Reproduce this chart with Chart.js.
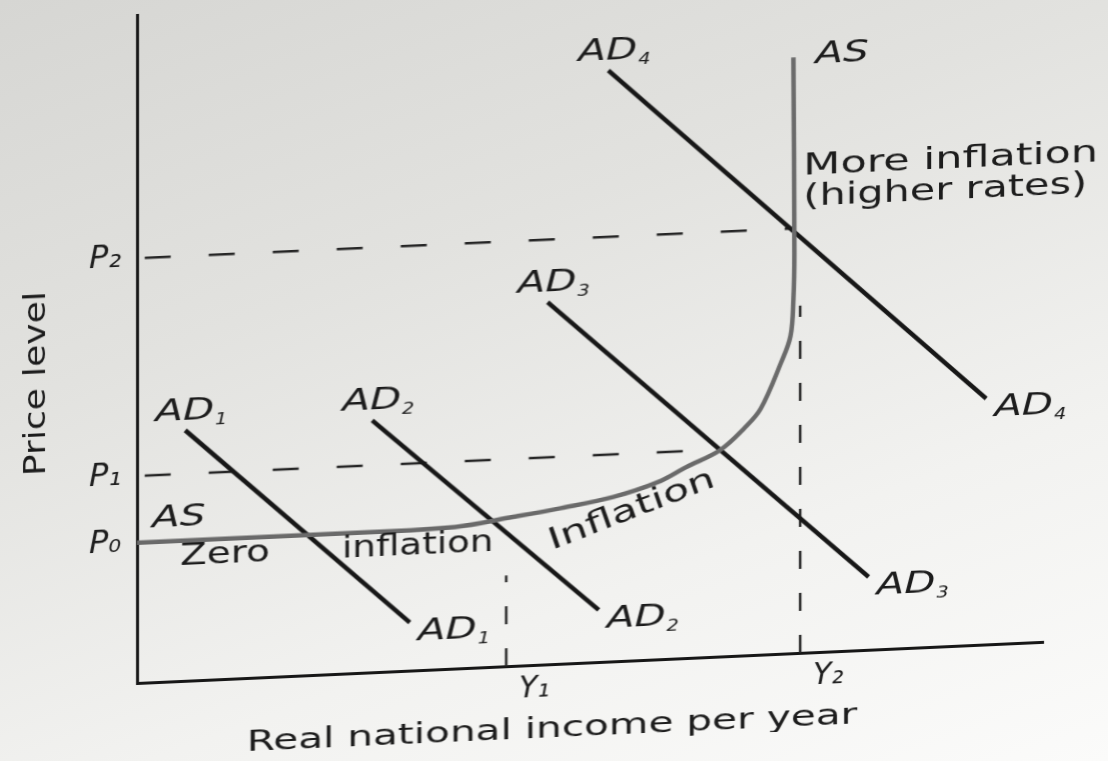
<!DOCTYPE html>
<html>
<head>
<meta charset="utf-8">
<script src="https://cdn.jsdelivr.net/npm/chart.js@4.4.1/dist/chart.umd.min.js"></script>
<style>
  html, body { margin: 0; padding: 0; }
  body {
    width: 1108px; height: 761px; overflow: hidden;
    background: linear-gradient(160deg, #d6d6d3 0%, #e2e2df 35%, #f2f2f0 70%, #fbfbfa 100%);
  }
  #chart { display: block; transform: skewY(-2.6deg); transform-origin: 137px 0; }
</style>
</head>
<body>
<canvas id="chart" width="1108" height="761"></canvas>
<script>
// aggregate supply: flat at P0, bending up into a vertical line at Y2
const asX = [0, 20, 33, 39, 44, 49.4, 54, 57, 60.5, 63, 64.7, 66.8, 67.8, 68.1, 68.2, 68.1];
const asY = [21, 21, 21.2, 22.3, 23.3, 24.6, 26.5, 28.6, 30.9, 34, 36.8, 43.5, 47.5, 53, 60, 89.2];

// aggregate demand curves, start and end of each
const adNames = ['1', '2', '3', '4'];
const adX = [[5.0, 28.3], [24.4, 47.9], [42.6, 75.9], [48.9, 88.1]];
const adY = [[37.5, 7.2], [37.7, 7.8], [54.2, 10.9], [88.5, 36.8]];

// price levels and incomes marked on the axes
const priceTicks = [21, 31, 63.6];
const priceLabels = ['P₀', 'P₁', 'P₂'];
const priceGuideEnd = [null, 60.5, 68.1];
const incomeTicks = [38.3, 68.8];
const incomeLabels = ['Y₁', 'Y₂'];
const incomeGuideEnd = [13.6, 52];

const ink = '#171717';
const pts = (xs, ys) => xs.map((x, i) => ({ x, y: ys[i] }));

const curve = (xs, ys, color, width, tension) => ({
    data: pts(xs, ys), borderColor: color, borderWidth: width,
    pointRadius: 0, showLine: true, fill: false, tension: tension || 0
});
const guide = (xs, ys, dash) => ({
    data: pts(xs, ys), borderColor: '#262626', borderWidth: 2.5, borderDash: dash,
    pointRadius: 0, showLine: true, fill: false
});

let datasets = [curve(asX, asY, '#6a6a6a', 4.5, 0.35)];
adX.forEach((xs, i) => datasets.push(curve(xs, adY[i], ink, 4.5)));
priceTicks.forEach((p, i) => {
    if (priceGuideEnd[i] !== null) datasets.push(guide([0.8, priceGuideEnd[i]], [p, p], [26, 38]));
});
incomeTicks.forEach((y, i) => datasets.push(guide([y, y], [0, incomeGuideEnd[i]], [18, 24])));

// text helper: wide-set lettering, optional rotation
function writeText(ctx, str, x, y, o) {
    const stretch = o.stretch || 1;
    ctx.save();
    ctx.translate(x, y);
    if (o.angle) ctx.rotate(o.angle * Math.PI / 180);
    ctx.scale(stretch, 1);
    ctx.font = (o.italic ? 'italic ' : '') + o.size + 'px "DejaVu Sans"';
    ctx.fillStyle = '#1c1c1c';
    ctx.textAlign = o.align || 'left';
    ctx.textBaseline = 'alphabetic';
    ctx.fillText(str, 0, 0);
    const w = ctx.measureText(str).width * stretch;
    ctx.restore();
    return w;
}

function curveLabel(ctx, main, sub, x, y) {
    const w = writeText(ctx, main, x, y, { size: 30, italic: true, stretch: 1.35 });
    if (sub) writeText(ctx, sub, x + w + 1, y + 6, { size: 16, italic: true, stretch: 1.2 });
}

const labels = {
    id: 'labels',
    afterDraw(chart) {
        const ctx = chart.ctx;
        const ends = i => {
            const d = chart.getDatasetMeta(i).data;
            return [d[0], d[d.length - 1]];
        };
        adNames.forEach((name, k) => {
            const [a, b] = ends(k + 1);
            curveLabel(ctx, 'AD', name, a.x - 30, a.y - 11);
            curveLabel(ctx, 'AD', name, b.x + 8, b.y + 18);
        });
        const [asStart, asTop] = ends(0);
        curveLabel(ctx, 'AS', null, asTop.x + 22, asTop.y + 7);
        curveLabel(ctx, 'AS', null, asStart.x + 15, asStart.y - 15);

        const plain = { size: 30, stretch: 1.3 };
        writeText(ctx, 'Zero', asStart.x + 43, asStart.y + 24, plain);
        writeText(ctx, 'inflation', asStart.x + 205, asStart.y + 24, { size: 30, stretch: 1.24 });
        writeText(ctx, 'Inflation', asStart.x + 415, asStart.y + 26, { size: 30, stretch: 1.42, angle: -19 });
        writeText(ctx, 'More inflation', asTop.x + 10, asTop.y + 118, { size: 30, stretch: 1.43 });
        writeText(ctx, '(higher rates)', asTop.x + 10, asTop.y + 149, { size: 30, stretch: 1.38 });

        const area = chart.chartArea;
        writeText(ctx, 'Price level', 45, (area.top + area.bottom) / 2 + 30, { size: 31, stretch: 1.16, angle: -90, align: 'center' });
        writeText(ctx, 'Real national income per year', 552, 756, { size: 28, stretch: 1.45, align: 'center' });
    }
};

new Chart(document.getElementById('chart'), {
    type: 'scatter',
    data: { datasets },
    plugins: [labels],
    options: {
        responsive: false,
        animation: false,
        layout: { padding: { top: 15, right: 65, left: 0, bottom: 0 } },
        plugins: { legend: { display: false }, tooltip: { enabled: false }, title: { display: false } },
        scales: {
            x: {
                type: 'linear', min: 0, max: 94,
                grid: { display: false, drawTicks: false },
                border: { display: true, color: ink, width: 3 },
                afterBuildTicks: s => { s.ticks = incomeTicks.map(v => ({ value: v })); },
                afterFit: s => { s.height = 78; s.paddingLeft = 0; s.paddingRight = 0; },
                ticks: {
                    autoSkip: false, maxRotation: 0, padding: 6, labelOffset: 28,
                    color: '#1c1c1c', font: { family: 'DejaVu Sans', size: 30, style: 'italic' },
                    callback: v => incomeLabels[incomeTicks.indexOf(v)]
                }
            },
            y: {
                type: 'linear', min: 0, max: 100,
                grid: { display: false, drawTicks: false },
                border: { display: true, color: ink, width: 3 },
                afterBuildTicks: s => { s.ticks = priceTicks.map(v => ({ value: v })); },
                afterFit: s => { s.width = 137; s.paddingTop = 0; s.paddingBottom = 0; },
                ticks: {
                    autoSkip: false, padding: 16,
                    color: '#1c1c1c', font: { family: 'DejaVu Sans', size: 32, style: 'italic' },
                    callback: v => priceLabels[priceTicks.indexOf(v)]
                }
            }
        }
    }
});
</script>
</body>
</html>
